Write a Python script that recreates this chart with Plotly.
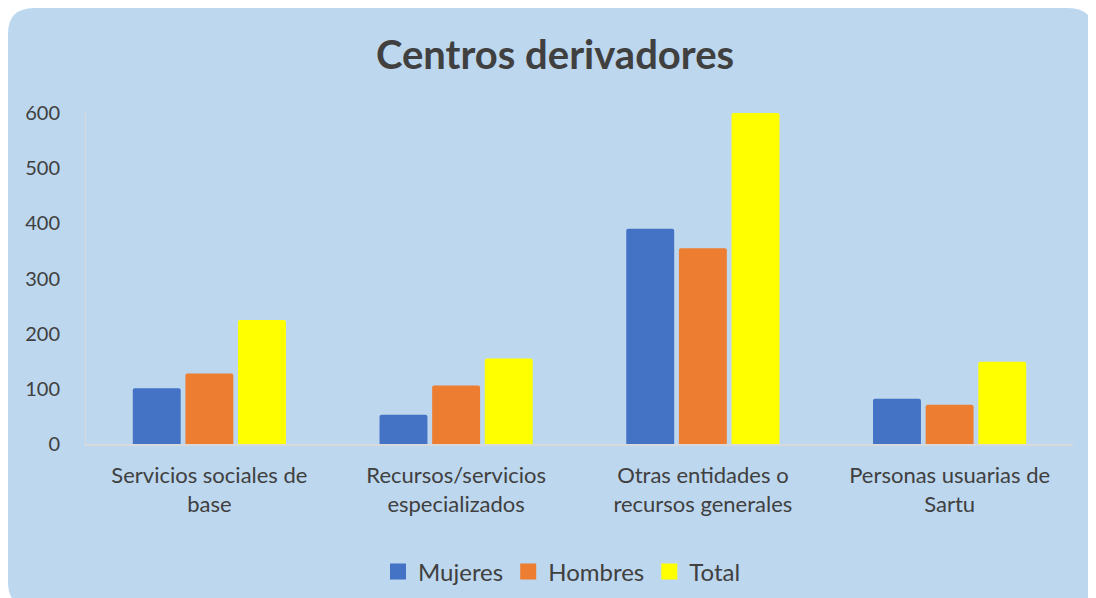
import plotly.graph_objects as go

categories = ["Servicios sociales de<br>base", "Recursos/servicios<br>especializados",
              "Otras entidades o<br>recursos generales", "Personas usuarias de<br>Sartu"]
mujeres = [101, 53, 390, 82]
hombres = [128, 106, 355, 71]
total = [225, 155, 600, 149]

series = [("Mujeres", mujeres, "#4472C4"), ("Hombres", hombres, "#ED7D31"), ("Total", total, "#FFFF00")]

# page body adds 8px margin, so layout is in figure coords (screen - 8)
W, H = 1096, 598
ML, MR, MT, MB = 78, 31, 105, 162
PW, PH = W - ML - MR, H - MT - MB


def px(x, y):
    # figure pixel position -> paper coords of the plot area
    return (x - ML) / PW, (H - MB - y) / PH


def rounded_rect(x0, y0, x1, y1, r):
    a = px(x0 + r, y0); b = px(x1 - r, y0)
    c = px(x1, y0 + r); cc = px(x1, y0)
    d = px(x1, y1 - r); ec = px(x1, y1); e = px(x1 - r, y1)
    f = px(x0 + r, y1); gc = px(x0, y1); g = px(x0, y1 - r)
    h = px(x0, y0 + r); hc = px(x0, y0)
    return (f"M{a[0]},{a[1]} L{b[0]},{b[1]} Q{cc[0]},{cc[1]} {c[0]},{c[1]} "
            f"L{d[0]},{d[1]} Q{ec[0]},{ec[1]} {e[0]},{e[1]} L{f[0]},{f[1]} "
            f"Q{gc[0]},{gc[1]} {g[0]},{g[1]} L{h[0]},{h[1]} Q{hc[0]},{hc[1]} {a[0]},{a[1]} Z")


fig = go.Figure()
for name, vals, color in series:
    fig.add_trace(go.Bar(x=categories, y=vals, name=name, marker_color=color,
                         marker_line_width=0, showlegend=False))
    # bigger square legend swatches
    fig.add_trace(go.Scatter(x=[None], y=[None], mode="markers", name=name,
                             marker=dict(symbol="square", size=18, color=color)))

fig.add_shape(type="path", xref="paper", yref="paper", layer="below",
              path=rounded_rect(0, 0, 1086, 600, 26),
              fillcolor="#BDD7EE", line_width=0)

fig.update_layout(
    width=W, height=H,
    margin=dict(l=ML, r=MR, t=MT, b=MB),
    paper_bgcolor="white", plot_bgcolor="rgba(0,0,0,0)",
    font=dict(family="Lato, Open Sans, sans-serif", color="#404040"),
    title=dict(text="<b>Centros derivadores</b>", x=(555 - 8) / W, xanchor="center",
               y=1 - 47 / H, yanchor="middle",
               font=dict(size=40, color="#404040")),
    barmode="group", bargap=0.36, bargroupgap=0.09, barcornerradius=2,
    showlegend=True,
    legend=dict(orientation="h", x=px(554, 0)[0], xanchor="center",
                y=px(0, 564)[1], yanchor="middle",
                font=dict(size=24, color="#404040"),
                bgcolor="rgba(0,0,0,0)", itemwidth=30, itemsizing="trace"),
)
fig.update_xaxes(showline=True, linecolor="#D9D9D9", linewidth=2, ticks="",
                 ticklabelstandoff=11,
                 tickfont=dict(size=22, color="#404040"), showgrid=False)
fig.update_yaxes(range=[0, 600], dtick=100, showgrid=False, showline=True,
                 linecolor="#D9D9D9", linewidth=1, zeroline=False, ticks="",
                 ticklabelstandoff=21, tickfont=dict(size=20, color="#404040"))

fig.write_html("out.html")
